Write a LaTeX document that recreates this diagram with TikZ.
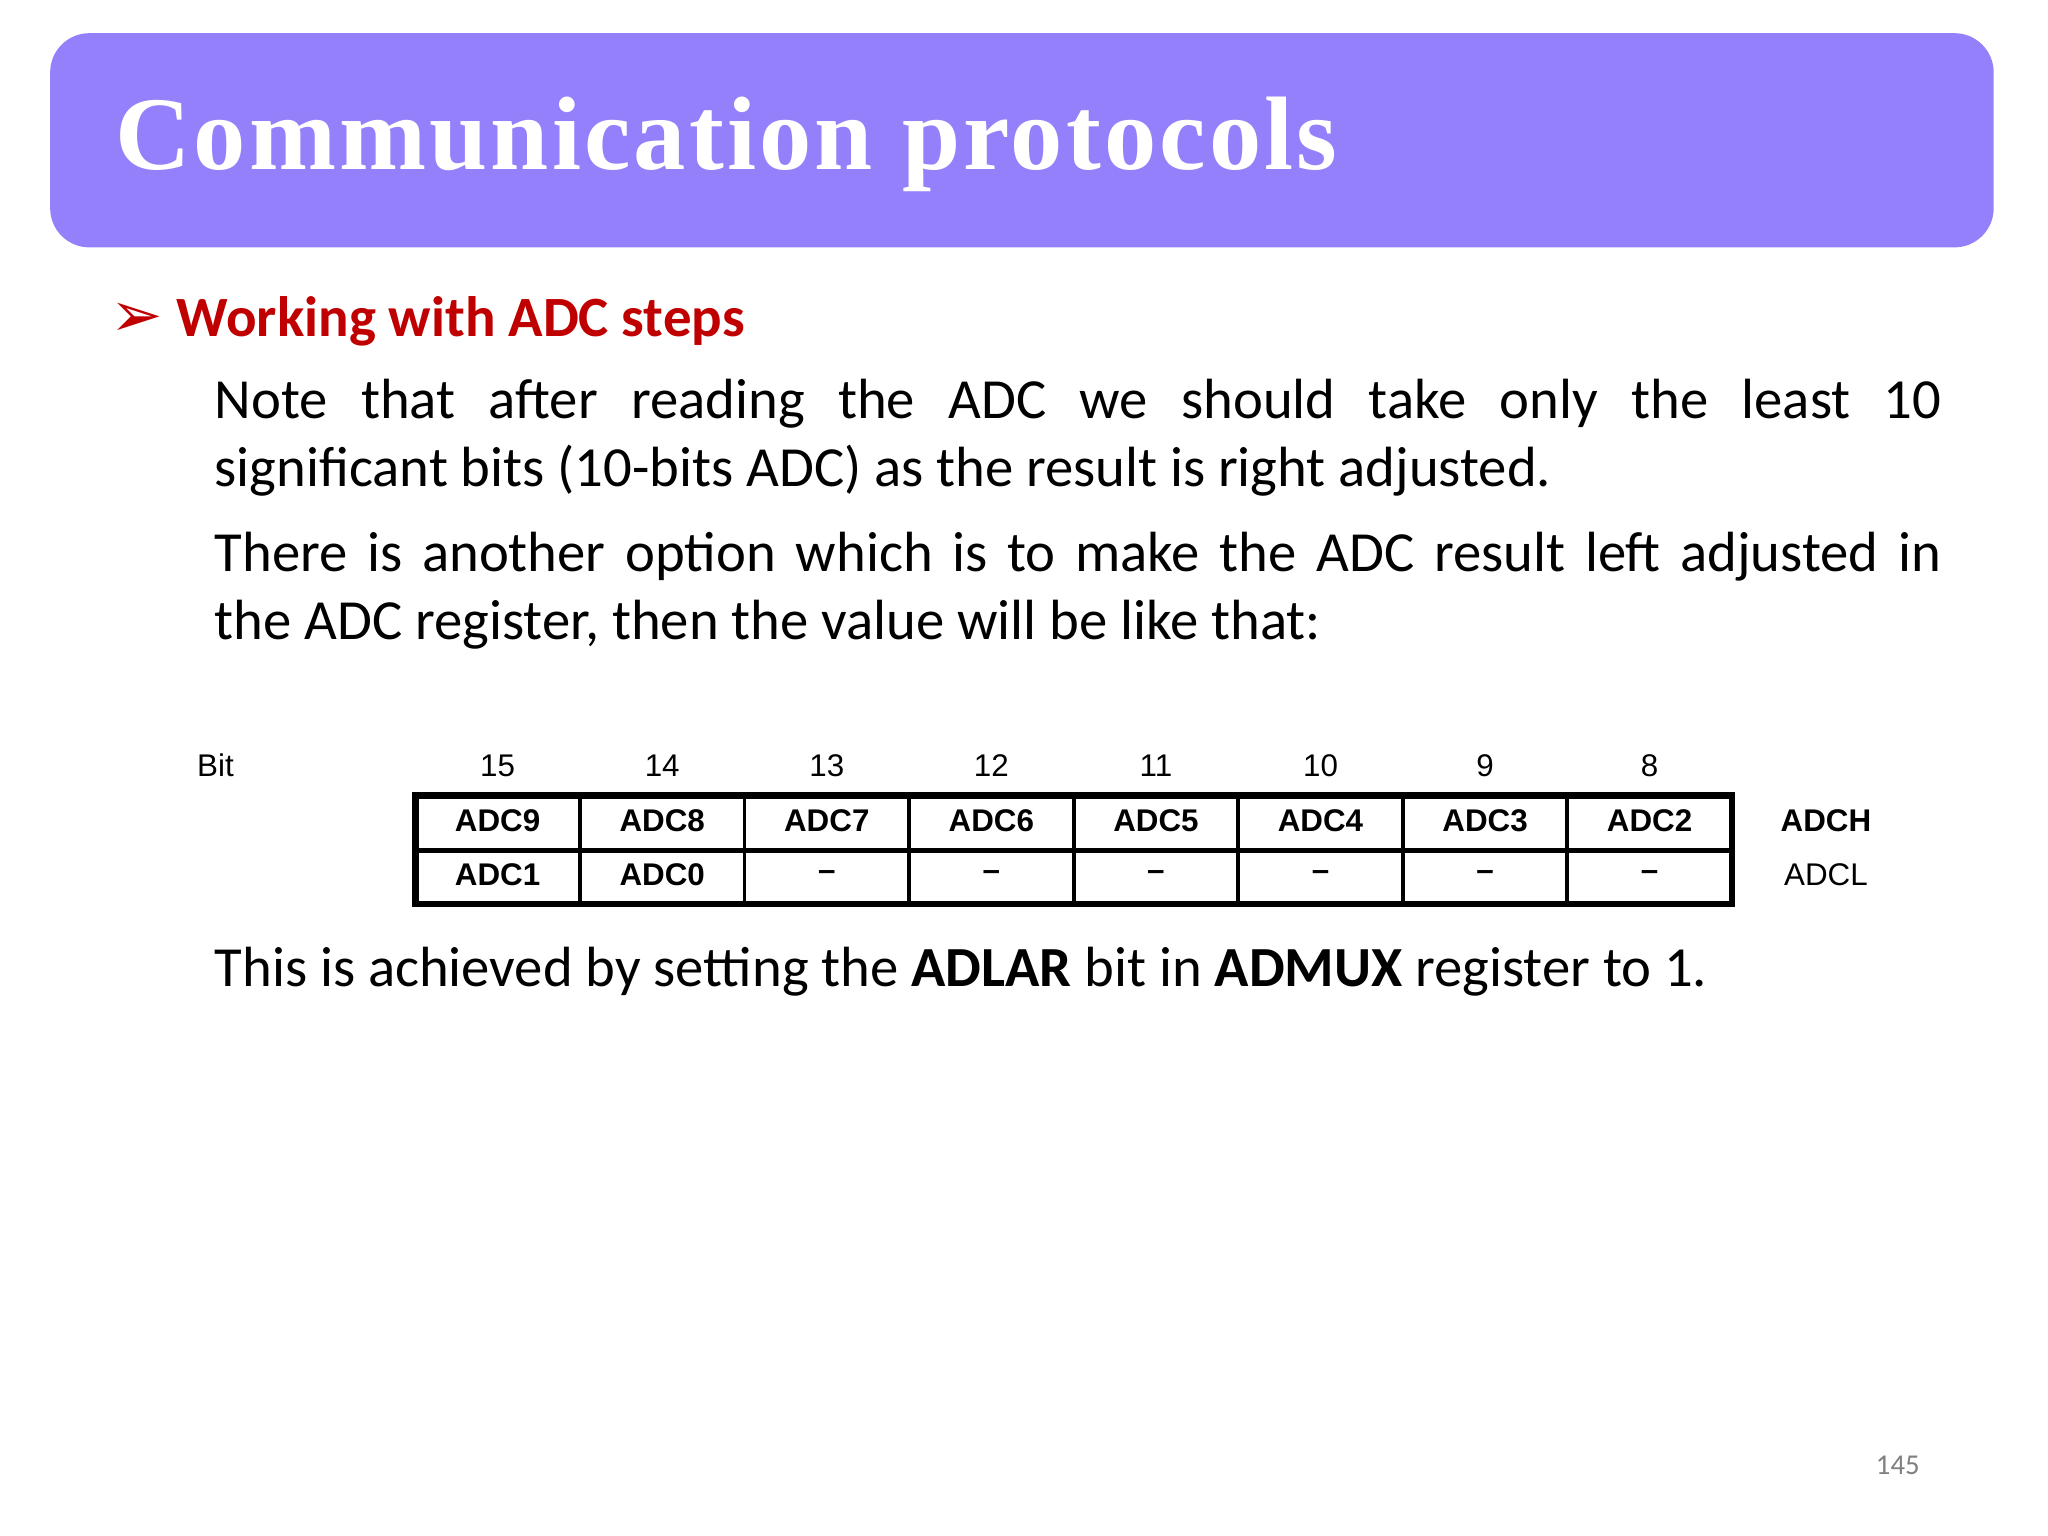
\documentclass[tikz,border=0pt]{standalone}
\usepackage{fontspec}
\setmainfont{Carlito}
\newfontfamily\titlefont[LetterSpace=3]{Liberation Serif}
\newfontfamily\arialf{Liberation Sans}
\newfontfamily\djv{DejaVu Sans}
\definecolor{titlebg}{HTML}{9380FA}
\definecolor{headred}{HTML}{C00000}
\begin{document}
\begin{tikzpicture}[x=0.5pt,y=-0.5pt,
  cell/.style={font=\arialf\bfseries\fontsize{12}{13}\selectfont,anchor=center},
  bitno/.style={font=\arialf\fontsize{12}{13}\selectfont,anchor=center},
  body/.style={anchor=north west,inner sep=0pt,text width=661pt,align=justify,font=\fontsize{21.7}{26}\selectfont}]
\useasboundingbox (0,0) rectangle (1568,1176);
\fill[white] (0,0) rectangle (1568,1176);
\node[fill=titlebg,rounded corners=15pt,minimum width=744pt,minimum height=82pt,anchor=north west,inner sep=0pt] (title) at (38,25) {};
\node[anchor=base west,inner sep=0pt,text=white,font=\titlefont\bfseries\fontsize{40}{44}\selectfont] (ttext) at (88,130) {Communication protocols};
\node[anchor=base west,inner sep=0pt,text=headred,font=\djv\fontsize{24}{26}\selectfont] (bul) at (84,258) {➢};
\node[anchor=base west,inner sep=0pt,text=headred,font=\bfseries\fontsize{21.8}{24}\selectfont] (head) at (135,258) {Working with ADC steps};
\node[body] (p1) at (164,290) {Note that after reading the ADC we should take only the least 10\linebreak significant bits (10-bits ADC) as the result is right adjusted.};
\node[body] (p2) at (164,407) {There is another option which is to make the ADC result left adjusted in\linebreak the ADC register, then the value will be like that:};
\node[bitno,anchor=center] (bit) at (165,586) {Bit};
\foreach \i/\b/\h/\l in {0/15/ADC9/ADC1,1/14/ADC8/ADC0,2/13/ADC7/–,3/12/ADC6/–,4/11/ADC5/–,5/10/ADC4/–,6/9/ADC3/–,7/8/ADC2/–}{
  \pgfmathsetmacro\cx{381+126*\i}
  \node[bitno] (b\i) at (\cx,586) {\b};
  \node[cell] (h\i) at (\cx,628) {\h};
  \node[cell] (l\i) at (\cx,670) {\l};
}
\foreach \x in {444,570,696,822,948,1074,1200}{\draw[line width=1.5pt] (\x,607) -- (\x,694);}
\draw[line width=2pt] (316,651) -- (1328,651);
\draw[line width=2.5pt] (318,609) rectangle (1326,692);
\node[cell] (adch) at (1398,628) {ADCH};
\node[bitno] (adcl) at (1398,670) {ADCL};
\node[anchor=base west,inner sep=0pt,font=\fontsize{21.7}{26}\selectfont] (p3) at (164,755) {This is achieved by setting the \textbf{ADLAR} bit in \textbf{ADMUX} register to 1.};
\node[anchor=center,text=gray,font=\fontsize{11}{13}\selectfont] (pg) at (1453,1122) {145};
\end{tikzpicture}
\end{document}
